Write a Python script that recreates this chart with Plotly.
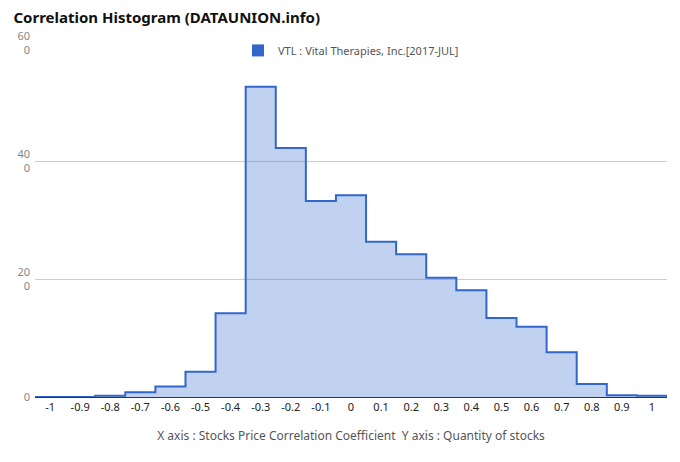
import plotly.graph_objects as go

centers = [-1.0, -0.9, -0.8, -0.7, -0.6, -0.5, -0.4, -0.3, -0.2, -0.1, 0.0,
           0.1, 0.2, 0.3, 0.4, 0.5, 0.6, 0.7, 0.8, 0.9, 1.0]
counts = [0.0, 0.0, 0.2, 0.8, 1.8, 4.3, 14.2, 52.6, 42.2, 33.2, 34.2,
          26.3, 24.2, 20.2, 18.1, 13.4, 11.9, 7.6, 2.2, 0.3, 0.2]
x_tick_vals = centers
x_tick_text = ["-1", "-0.9", "-0.8", "-0.7", "-0.6", "-0.5", "-0.4", "-0.3", "-0.2", "-0.1", "0",
               "0.1", "0.2", "0.3", "0.4", "0.5", "0.6", "0.7", "0.8", "0.9", "1"]
y_tick_vals = [0, 20, 40, 60]
y_tick_text = ["0", "20<br>0", "40<br>0", "60<br>0"]
series_name = "VTL : Vital Therapies, Inc.[2017-JUL]"

half = 0.05
edges = [c - half for c in centers] + [centers[-1] + half]
step_y = counts + [counts[-1]]

fig = go.Figure()
fig.add_trace(go.Scatter(
    x=edges, y=step_y, mode="lines", line_shape="hv",
    line=dict(color="#3366cc", width=2),
    fill="tozeroy", fillcolor="rgba(51,102,204,0.3)",
    showlegend=False, hoverinfo="skip"))
fig.add_trace(go.Scatter(
    x=[None], y=[None], mode="markers", name=series_name,
    marker=dict(symbol="square", size=11, color="#3366cc")))

fig.update_layout(
    width=680, height=462,
    margin=dict(l=27, r=21, t=35, b=73),
    paper_bgcolor="white", plot_bgcolor="white",
    font=dict(family="Noto Sans, Open Sans, sans-serif"),
    title=dict(text="<b>Correlation Histogram (DATAUNION.info)</b>",
               x=0.008, xanchor="left", y=0.978, yanchor="middle",
               font=dict(size=15, color="#111")),
    legend=dict(orientation="h", x=0.5, xanchor="center", y=1.02, yanchor="top",
                font=dict(size=11, color="#555"), bgcolor="rgba(0,0,0,0)",
                itemsizing="constant"),
    xaxis=dict(range=[-1.05, 1.05], tickmode="array", tickvals=x_tick_vals,
               ticktext=x_tick_text, showgrid=False, zeroline=False,
               showline=True, linecolor="#333", linewidth=1, automargin=False,
               tickfont=dict(size=11, color="#222"),
               title=dict(text="X axis : Stocks Price Correlation Coefficient  Y axis : Quantity of stocks",
                          font=dict(size=12, color="#555"), standoff=18)),
    yaxis=dict(range=[0, 60], tickmode="array", tickvals=y_tick_vals,
               ticktext=y_tick_text, showgrid=True, gridcolor="#cccccc",
               zeroline=False, tickfont=dict(size=11, color="#888"),
               automargin=False, ticklabelstandoff=4),
)

fig.write_html("out.html")
